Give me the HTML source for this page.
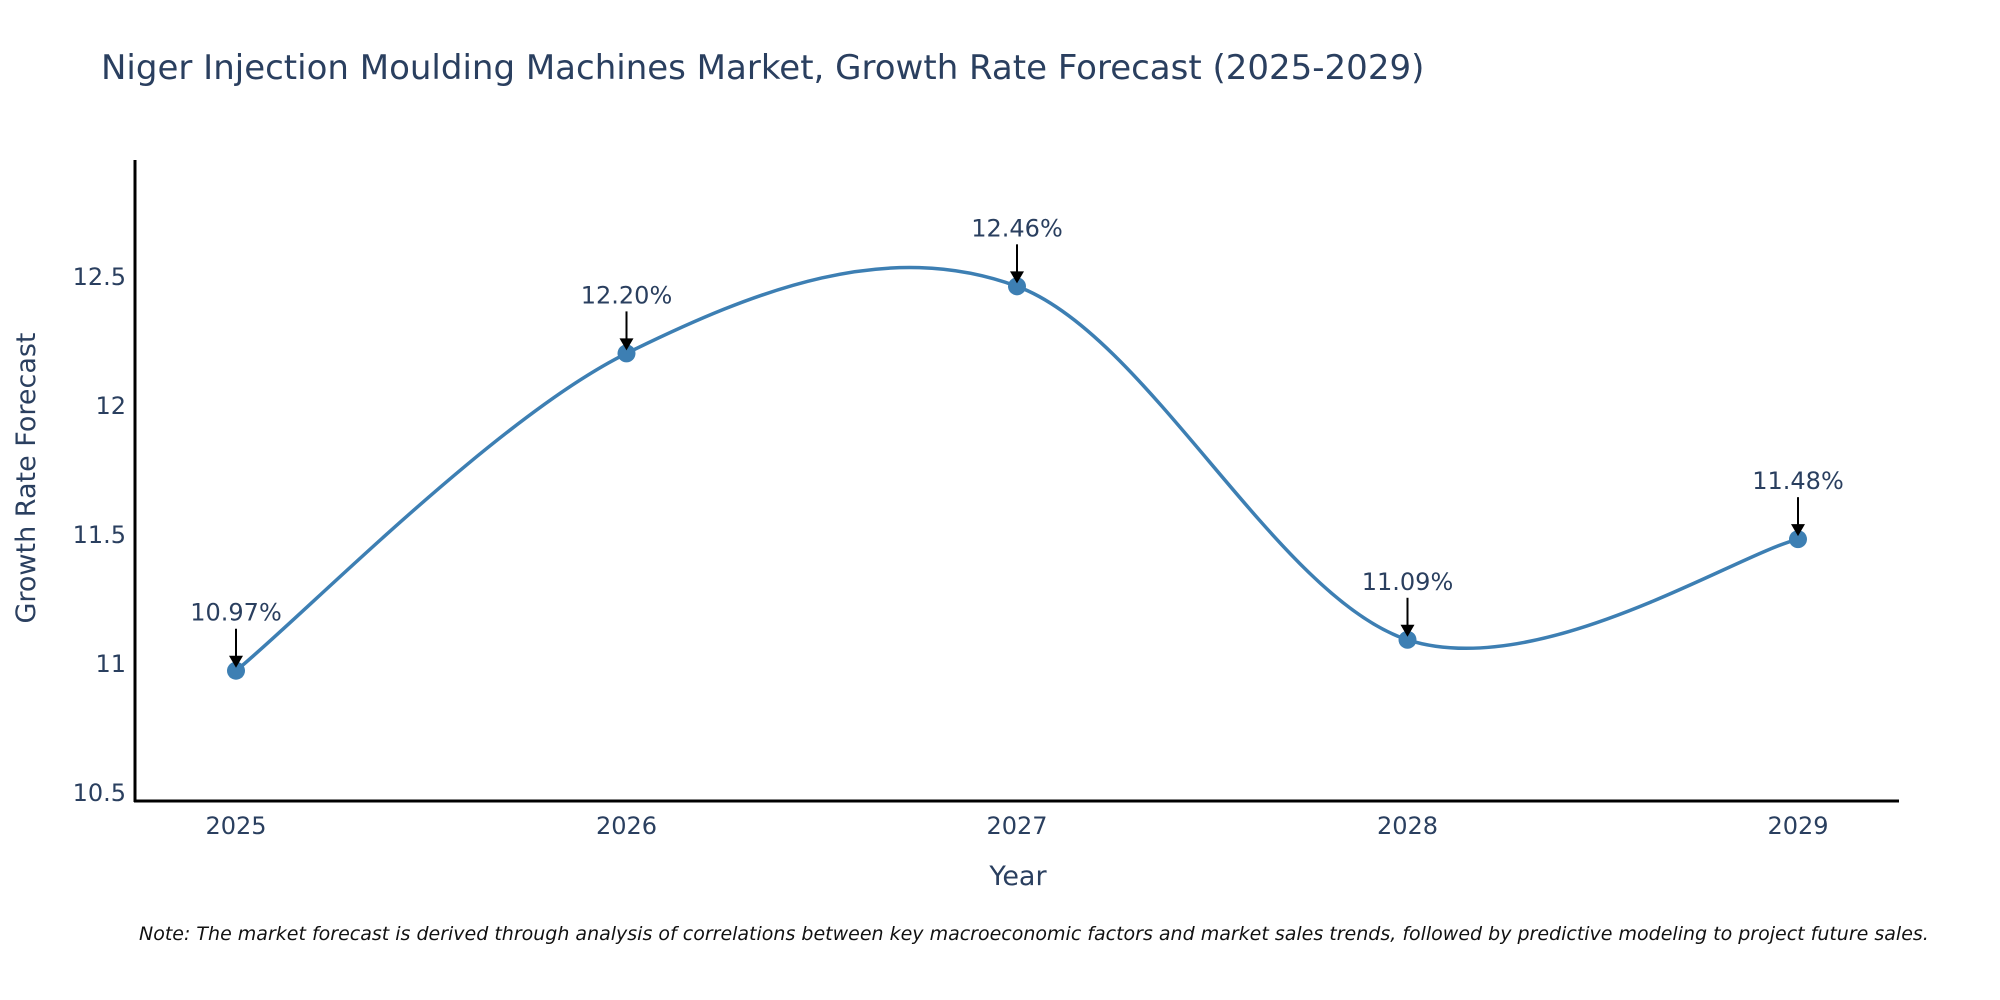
<!DOCTYPE html>
<html><head><meta charset="utf-8"><style>
body{margin:0;background:#fff}
svg{display:block;font-family:"DejaVu Sans","Liberation Sans",sans-serif}
</style></head><body>
<svg id="chart" width="2000" height="1000" viewBox="0 0 2000 1000">
<text x="101" y="79" font-size="34" fill="#2a3f5f">Niger Injection Moulding Machines Market, Growth Rate Forecast (2025-2029)</text>
<g id="yticks"></g><g id="xticks"></g>
<path id="line" fill="none" stroke="#3d7fb3" stroke-width="3.5"/>
<g id="marks"></g>
<line x1="135" y1="160" x2="135" y2="802" stroke="#000" stroke-width="3"/>
<line x1="134" y1="801" x2="1899" y2="801" stroke="#000" stroke-width="3"/>
<text x="1018" y="885" font-size="27" fill="#2a3f5f" text-anchor="middle">Year</text>
<text transform="translate(35,478) rotate(-90)" font-size="27" fill="#2a3f5f" text-anchor="middle">Growth Rate Forecast</text>
<text x="139" y="940" font-size="19" font-style="italic" fill="#111">Note: The market forecast is derived through analysis of correlations between key macroeconomic factors and market sales trends, followed by predictive modeling to project future sales.</text>
</svg>
<script>
const years=[2025,2026,2027,2028,2029];
const values=[10.97,12.20,12.46,11.09,11.48];
const labels=["10.97%","12.20%","12.46%","11.09%","11.48%"];
const yTicks=[10.5,11,11.5,12,12.5];
const yTickLabels=["10.5","11","11.5","12","12.5"];
const NS="http://www.w3.org/2000/svg";
function X(y){return 236+(y-2025)*390.5;}
function Y(v){return 663-(v-11)*258;}
function mk(t,a,p){const e=document.createElementNS(NS,t);for(const k in a)e.setAttribute(k,a[k]);p.appendChild(e);return e;}
const yt=document.getElementById('yticks');
yTicks.forEach((v,i)=>{const t=mk('text',{x:126,y:Y(v)+9,'font-size':24,fill:'#2a3f5f','text-anchor':'end'},yt);t.textContent=yTickLabels[i];

});
const xt=document.getElementById('xticks');
years.forEach(y=>{const t=mk('text',{x:X(y),y:834,'font-size':24,fill:'#2a3f5f','text-anchor':'middle'},xt);t.textContent=String(y);

});
const P=years.map((y,i)=>[X(y),Y(values[i])]);
let d='M'+P[0][0]+','+P[0][1];
for(let i=0;i<P.length-1;i++){const p0=P[Math.max(i-1,0)],p1=P[i],p2=P[i+1],p3=P[Math.min(i+2,P.length-1)];const k=1/6;
const c1=[p1[0]+(p2[0]-p0[0])*k,p1[1]+(p2[1]-p0[1])*k],c2=[p2[0]-(p3[0]-p1[0])*k,p2[1]-(p3[1]-p1[1])*k];
d+=` C${c1[0]},${c1[1]} ${c2[0]},${c2[1]} ${p2[0]},${p2[1]}`;}
document.getElementById('line').setAttribute('d',d);
const g=document.getElementById('marks');
P.forEach((p,i)=>{const c=mk('circle',{cx:p[0],cy:p[1],r:9,fill:'#3d7fb3'},g);


const l=mk('line',{x1:p[0],y1:p[1]-42,x2:p[0],y2:p[1]-14,stroke:'#000','stroke-width':2},g);


const a=mk('polygon',{points:`${p[0]-7},${p[1]-15} ${p[0]+7},${p[1]-15} ${p[0]},${p[1]-3}`,fill:'#000'},g);


const t=mk('text',{x:p[0],y:p[1]-50,'font-size':24,fill:'#2a3f5f','text-anchor':'middle'},g);t.textContent=labels[i];

});
</script>
</body></html>
